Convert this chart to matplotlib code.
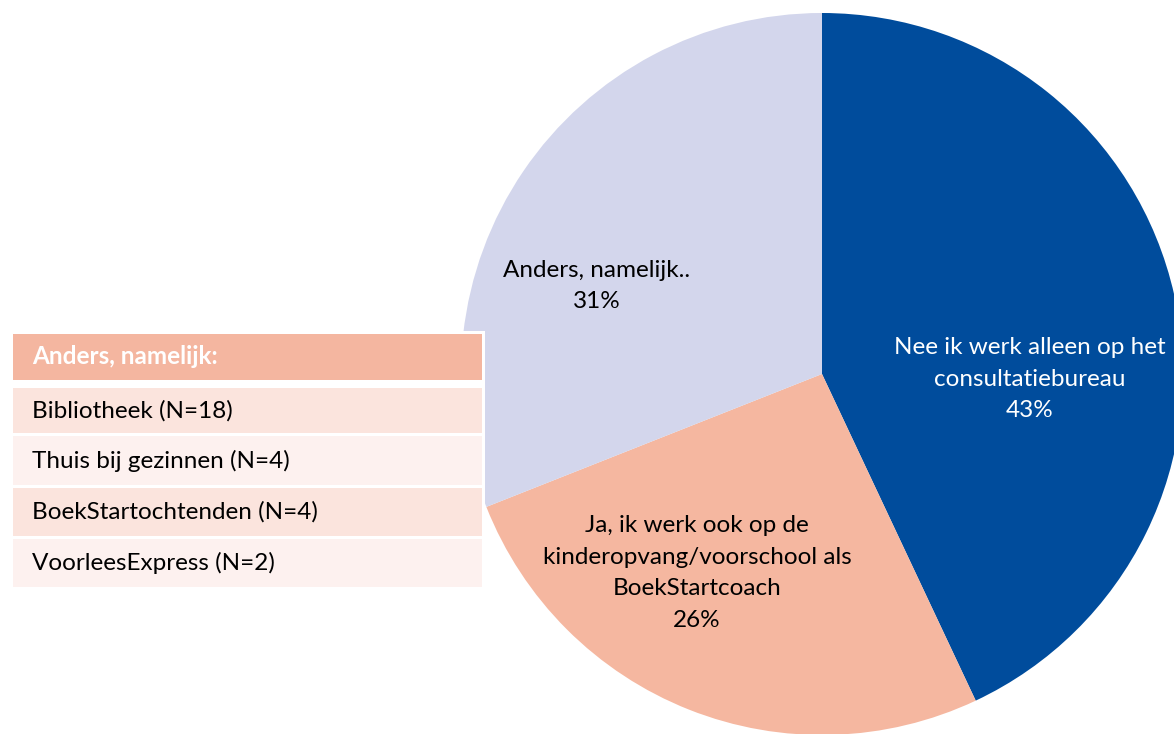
import matplotlib
matplotlib.use("Agg")
import matplotlib.pyplot as plt
from matplotlib.patches import Rectangle

# ---- data ----
slice_labels = ["Nee ik werk alleen op het\nconsultatiebureau",
                "Ja, ik werk ook op de\nkinderopvang/voorschool als\nBoekStartcoach",
                "Anders, namelijk.."]
slice_values = [43, 26, 31]
slice_colors = ["#004C9C", "#F5B7A0", "#D3D6EC"]
label_colors = ["white", "black", "black"]

table_title = "Anders, namelijk:"
table_rows = ["Bibliotheek (N=18)", "Thuis bij gezinnen (N=4)",
              "BoekStartochtenden (N=4)", "VoorleesExpress (N=2)"]

plt.rcParams['font.family'] = ['Lato', 'DejaVu Sans']

W, H = 1174, 734
fig = plt.figure(figsize=(W / 100, H / 100), dpi=100)
ax = fig.add_axes([0, 0, 1, 1])

cx, cy, R = 822, H - 374, 361
wedges, _ = ax.pie(slice_values, colors=slice_colors, startangle=90,
                   counterclock=False, center=(cx, cy), radius=R,
                   wedgeprops=dict(linewidth=0))
ax.set_xlim(0, W)
ax.set_ylim(0, H)
ax.set_aspect('equal')
ax.axis('off')

# label positions (pixel, top-left origin)
label_pos = [(1030, 379), (697, 573), (597, 286)]
for lab, val, col, (px, py) in zip(slice_labels, slice_values, label_colors, label_pos):
    ax.text(px, H - py, f"{lab}\n{val}%", ha='center', va='center',
            fontsize=17.5, color=col, linespacing=1.63)

# table
tx0, tx1 = 13, 482
# white frame
ax.add_patch(Rectangle((tx0 - 3, H - 590), tx1 - tx0 + 6, 590 - 331,
                       facecolor='white', edgecolor='none', zorder=3))
header = (334, 380)
ax.add_patch(Rectangle((tx0, H - header[1]), tx1 - tx0, header[1] - header[0],
                       facecolor='#F4B6A0', edgecolor='none', zorder=4))
ax.text(32, H - (header[0] + header[1]) / 2, table_title, ha='left', va='center',
        fontsize=17.5, color='white', fontweight='bold', zorder=5)
row_bounds = [(388, 433), (436, 485), (488, 536), (539, 587)]
row_colors = ['#FBE4DD', '#FDF1EF']
for i, (txt, (y0, y1)) in enumerate(zip(table_rows, row_bounds)):
    ax.add_patch(Rectangle((tx0, H - y1), tx1 - tx0, y1 - y0,
                           facecolor=row_colors[i % 2], edgecolor='none', zorder=4))
    ax.text(32, H - (y0 + y1) / 2, txt, ha='left', va='center',
            fontsize=17.5, color='black', zorder=5)

fig.savefig("out.png", dpi=100)
